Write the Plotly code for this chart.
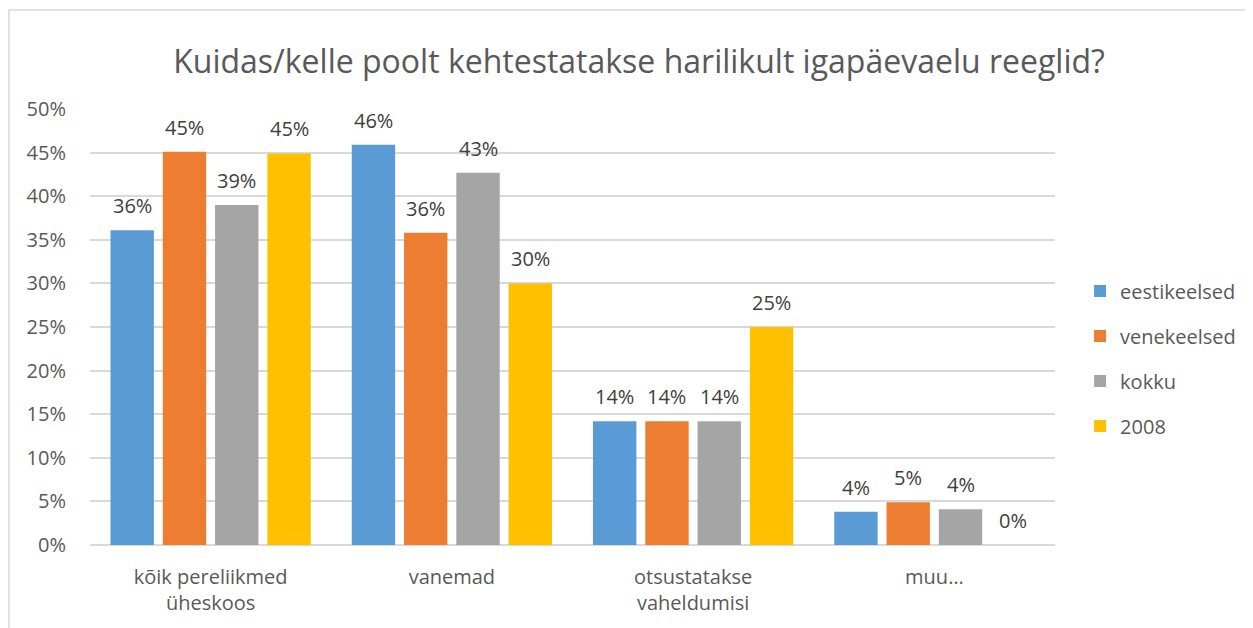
import plotly.graph_objects as go

categories = ["kõik pereliikmed<br>üheskoos", "vanemad", "otsustatakse<br>vaheldumisi", "muu…"]
series_names = ["eestikeelsed", "venekeelsed", "kokku", "2008"]
eestikeelsed = [0.361, 0.459, 0.142, 0.038]
venekeelsed = [0.451, 0.358, 0.142, 0.049]
kokku = [0.390, 0.427, 0.142, 0.041]
y2008 = [0.449, 0.300, 0.250, 0.0]
tick_vals = [0, 0.05, 0.10, 0.15, 0.20, 0.25, 0.30, 0.35, 0.40, 0.45, 0.50]
tick_text = ["0%", "5%", "10%", "15%", "20%", "25%", "30%", "35%", "40%", "45%", "50%"]
title_text = "Kuidas/kelle poolt kehtestatakse harilikult igapäevaelu reeglid?"

colors = ["#5B9BD5", "#ED7D31", "#A5A5A5", "#FFC000"]
FONT = "Open Sans"

# figure is placed at an 8px page offset by the browser; size and margins compensate
W, H = 1245, 620
ML, MR, MT, MB = 82, 198, 101, 83
BARGAP, GROUPGAP = 0.133, 0.17
plot_w = W - ML - MR
slot = plot_w / len(categories) * (1 - BARGAP) / len(series_names)

fig = go.Figure()
all_vals = [eestikeelsed, venekeelsed, kokku, y2008]
for i, (name, vals) in enumerate(zip(series_names, all_vals)):
    fig.add_trace(go.Bar(
        x=categories, y=vals, name=name,
        marker=dict(color=colors[i], line=dict(width=0)),
        legendgroup=name,
    ))
    for c, v in zip(categories, vals):
        fig.add_annotation(x=c, y=v, text=f"{round(v*100):.0f}%", showarrow=False,
                           xref="x", yref="y", yanchor="bottom",
                           xshift=(i - 1.5) * slot, yshift=9,
                           font=dict(size=20, color="#404040", family=FONT))

fig.update_layout(
    width=W, height=H,
    paper_bgcolor="white", plot_bgcolor="white",
    margin=dict(l=ML, r=MR, t=MT, b=MB),
    barmode="group", bargap=BARGAP, bargroupgap=GROUPGAP,
    title=dict(text=title_text, x=631 / W, xanchor="center", y=1 - 54 / H, yanchor="middle",
               font=dict(size=32, color="#595959", family=FONT)),
    font=dict(family=FONT, color="#595959"),
    legend=dict(x=1.026, xanchor="left", y=0.428, yanchor="middle",
                font=dict(size=20, color="#595959", family=FONT),
                tracegroupgap=16, itemwidth=30, traceorder="grouped"),
    shapes=[dict(type="rect", xref="paper", yref="paper",
                 x0=(1 - ML) / plot_w, x1=1.4, y0=-0.4, y1=(H - MB - 2) / (H - MT - MB),
                 line=dict(color="#D9D9D9", width=1.5), fillcolor="rgba(0,0,0,0)", layer="below")],
)
fig.update_yaxes(range=[0, 0.5], tickvals=tick_vals, ticktext=tick_text,
                 showgrid=True, gridcolor="#D9D9D9", gridwidth=1.5,
                 zeroline=True, zerolinecolor="#D9D9D9", zerolinewidth=1.5,
                 tickfont=dict(size=20, color="#595959", family=FONT),
                 ticklabelstandoff=23, showline=False)
fig.update_xaxes(showline=False, tickfont=dict(size=20, color="#595959", family=FONT),
                 ticklabelstandoff=18)

fig.write_html("out.html")
